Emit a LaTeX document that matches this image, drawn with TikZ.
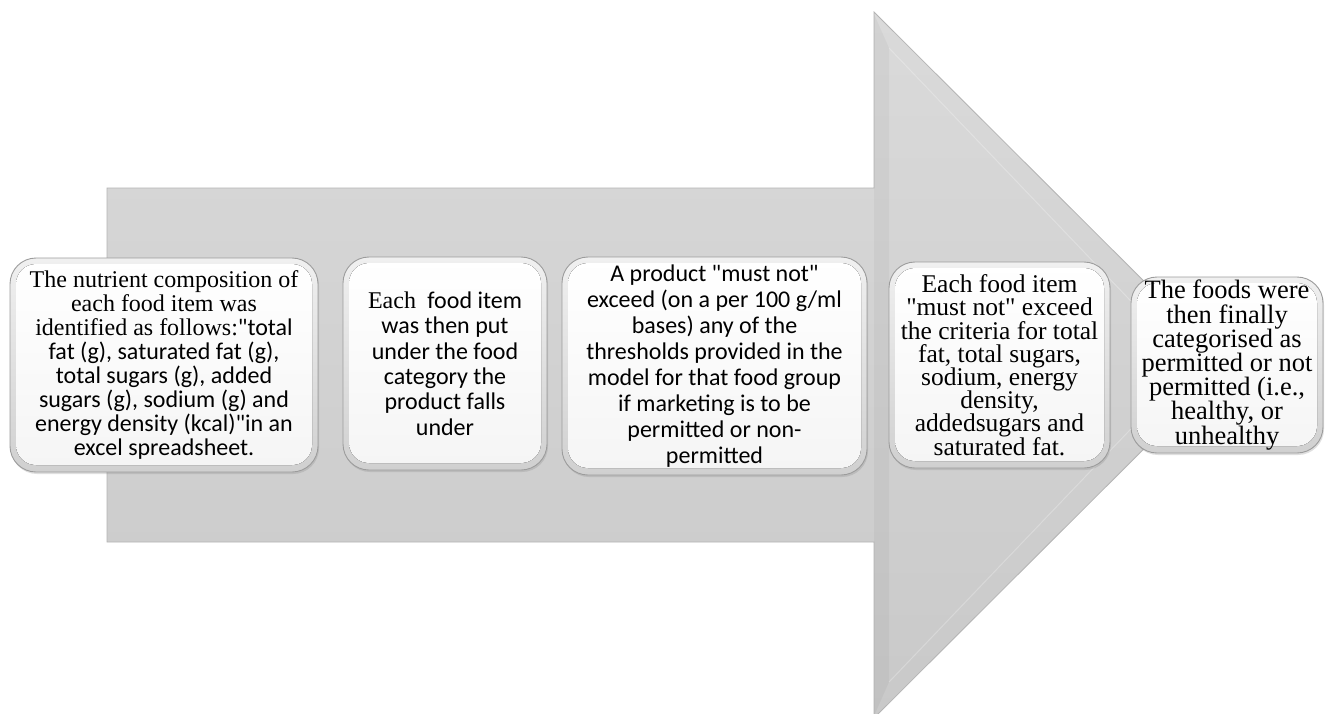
\documentclass[tikz,border=0pt]{standalone}
\usepackage{fontspec}
\setmainfont{Liberation Serif}
\newfontfamily\tms{Liberation Serif}
\newfontfamily\calib{Carlito}
\newcommand\tightlines{\lineskiplimit=-100pt\relax}
\usetikzlibrary{shadows}
\definecolor{arrtop}{HTML}{DADADA}
\definecolor{arrbot}{HTML}{C9C9C9}
\definecolor{arredge}{HTML}{B4B4B4}
\definecolor{boxedge}{HTML}{9C9C9C}
\definecolor{bevtop}{HTML}{F0F0F0}
\definecolor{bevbot}{HTML}{D0D0D0}
\tikzset{
  stepbox/.style={rectangle, rounded corners=26pt, draw=boxedge, line width=0.9pt,
    top color=bevtop, bottom color=bevbot, inner sep=0pt, align=center,
    drop shadow={shadow xshift=1pt, shadow yshift=-2pt, opacity=0.25},
    path picture={\fill[rounded corners=20pt, top color=white, bottom color=white!96!black]
      ([shift={(6,6)}]path picture bounding box.north west) rectangle
      ([shift={(-6,-7)}]path picture bounding box.south east);}},
}
\begin{document}
\begin{tikzpicture}[x=1pt,y=-1pt]
\useasboundingbox (0,0) rectangle (1332,713);
\fill[white] (0,0) rectangle (1332,713);
% big arrow
\draw[arredge, line width=0.8pt, top color=arrtop, bottom color=arrbot]
  (107,188) -- (874,188) -- (874,12) -- (1228,365) -- (874,718) -- (874,542) -- (107,542) -- cycle;
\draw[white, opacity=0.25, line width=1pt]
  (889,48) -- (1192,365) -- (889,682);
\fill[black, opacity=0.035] (874,14) -- (889,48) -- (889,682) -- (874,716) -- cycle;
% boxes
\node[stepbox, minimum width=308pt, minimum height=214pt, font=\calib\fontsize{24}{24}\selectfont] (b1) at (164,365)
 {\tms The nutrient composition of\\
  \tms each food item was\\
  \tms identified as follows:\calib"total\\
  fat (g), saturated fat (g),\\
  total sugars (g), added\\
  sugars (g), sodium (g) and\\
  energy density (kcal)"in an\\
  excel spreadsheet.};
\node[stepbox, minimum width=204pt, minimum height=213pt, font=\calib\fontsize{24}{25.3}\selectfont] (b2) at (445,363.5)
 {\tms Each \calib\ food item\\
  was then put\\
  under the food\\
  category the\\
  product falls\\
  under};
\node[stepbox, minimum width=305pt, minimum height=218pt, font=\calib\fontsize{24}{26}\selectfont] (b3) at (714.5,366)
 {A product "must not"\\
  exceed (on a per 100 g/ml\\
  bases) any of the\\
  thresholds provided in the\\
  model for that food group\\
  if marketing is to be\\
  permitted  or non-\\
  permitted};
\node[stepbox, minimum width=221pt, minimum height=206pt, font=\tms\fontsize{25.5}{23.2}\selectfont\tightlines] (b4) at (999.5,365)
 {Each food item\\
  "must not" exceed\\
  the criteria for total\\
  fat, total sugars,\\
  sodium, energy\\
  density,\\
  addedsugars and\\
  saturated fat.};
\node[stepbox, minimum width=192pt, minimum height=176pt, font=\tms\fontsize{26.5}{24.2}\selectfont\tightlines] (b5) at (1227,365)
 {The foods were\\
  then finally\\
  categorised as\\
  permitted or not\\
  permitted (i.e.,\\
  healthy, or\\
  unhealthy};
\end{tikzpicture}
\end{document}
